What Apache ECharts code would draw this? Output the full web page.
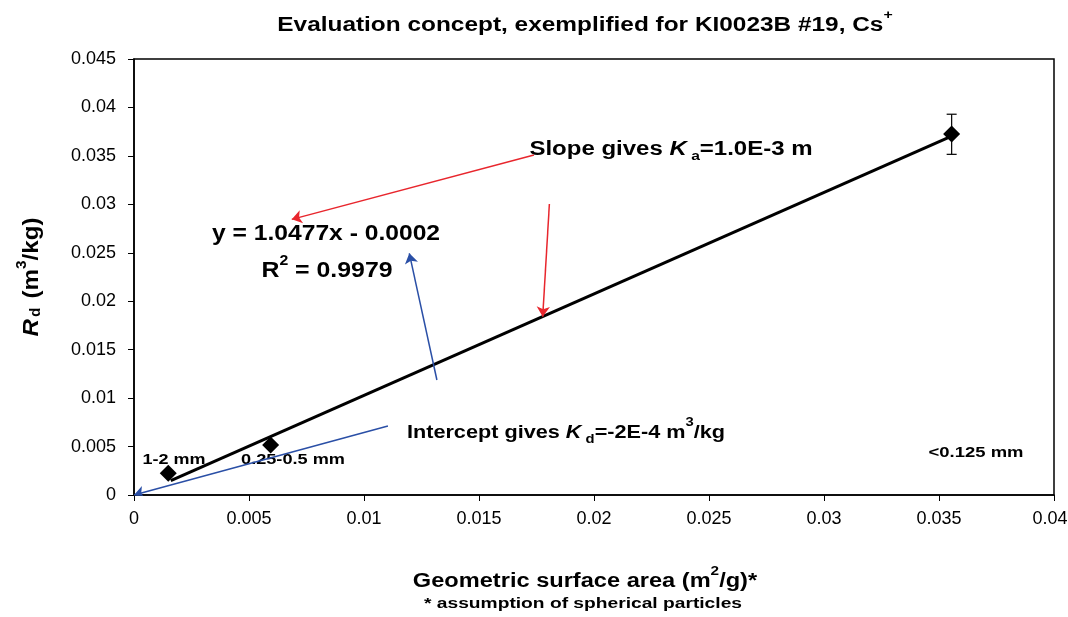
<!DOCTYPE html>
<html><head><meta charset="utf-8">
<script src="https://cdn.jsdelivr.net/npm/echarts@6/dist/echarts.min.js"></script>
<style>html,body{margin:0;padding:0;background:#fff}#c{width:1068px;height:617px}</style>
</head><body><div id="c"></div>
<script>
// Data
const pointNames = ['1-2 mm', '0.25-0.5 mm', '<0.125 mm'];
const pointX = [0.00149, 0.00594, 0.03555];
const pointY = [0.00224, 0.00516, 0.03726];
const errLow = [null, null, 0.03516];
const errHigh = [null, null, 0.03930];
const trendX = [0.0016, 0.03555];
const trendY = [0.00148, 0.03705];
// arrows: [x0,y0,x1,y1] (tail -> head) in data units
const redArrows = [
  [0.01739, 0.03509, 0.00686, 0.02845],
  [0.01806, 0.03004, 0.01777, 0.01841]
];
const blueArrows = [
  [0.01317, 0.01187, 0.01197, 0.02494],
  [0.01104, 0.00712, 0.0, 0.0]
];
const xTicks = [0, 0.005, 0.01, 0.015, 0.02, 0.025, 0.03, 0.035, 0.04];
const yTicks = [0, 0.005, 0.01, 0.015, 0.02, 0.025, 0.03, 0.035, 0.04, 0.045];

const FONT = '"Liberation Sans", Arial, sans-serif';
const chart = echarts.init(document.getElementById('c'));

function arrowLines(arr, color) {
  return {
    type: 'lines', coordinateSystem: 'cartesian2d', silent: true, z: 5,
    symbol: ['none', 'arrow'], symbolSize: 10,
    lineStyle: { color: color, width: 1.5, opacity: 1 },
    data: arr.map(a => ({ coords: [[a[0], a[1]], [a[2], a[3]]] }))
  };
}

const bold = { fontFamily: FONT, fontWeight: 'bold', color: '#000' };
function rt(fs, lh) { return { ...bold, fontSize: fs, lineHeight: lh, verticalAlign: 'bottom' }; }
function it(fs, lh) { return { ...bold, fontStyle: 'italic', fontSize: fs, lineHeight: lh, verticalAlign: 'bottom' }; }
function sup(fs, lh) { return { ...bold, fontSize: fs, lineHeight: lh, verticalAlign: 'top', padding: [0, 0, 10, 0] }; }
function sub(fs, lh) { return { ...bold, fontSize: fs, lineHeight: lh, verticalAlign: 'bottom', padding: [0, 0, -4, 0] }; }

function label(x, y, text, fs, sx) {
  return { type: 'text', x: x, y: y, scaleX: sx, style: { text: text, align: 'center', verticalAlign: 'middle', font: 'bold ' + fs + 'px ' + FONT, fill: '#000' } };
}

chart.setOption({
  animation: false,
  backgroundColor: '#fff',
  grid: { left: 134, right: 14, top: 59, bottom: 122, show: true, borderColor: '#000', borderWidth: 1.5,
          containLabel: false, outerBoundsMode: 'none' },
  xAxis: {
    type: 'value', min: 0, max: 0.04, interval: 0.005,
    axisLine: { show: true, lineStyle: { color: '#000', width: 1.5 } },
    axisTick: { show: true, length: 6, lineStyle: { color: '#000' } },
    splitLine: { show: false },
    axisLabel: { fontFamily: FONT, fontSize: 18, color: '#000', margin: 15,
      rich: { last: { fontFamily: FONT, fontSize: 18, color: '#000', padding: [0, 8, 0, 0] } },
      formatter: v => {
        const t = xTicks.find(k => Math.abs(k - v) < 1e-9);
        if (t === undefined) return '';
        return t === xTicks[xTicks.length - 1] ? '{last|' + t + '}' : String(t);
      } }
  },
  yAxis: {
    type: 'value', min: 0, max: 0.045, interval: 0.005,
    axisLine: { show: true, lineStyle: { color: '#000', width: 1.5 } },
    axisTick: { show: true, length: 6, lineStyle: { color: '#000' } },
    splitLine: { show: false },
    axisLabel: { fontFamily: FONT, fontSize: 18, color: '#000', margin: 18,
      formatter: v => { const t = yTicks.find(k => Math.abs(k - v) < 1e-9); return t === undefined ? '' : String(t); } }
  },
  series: [
    {
      type: 'line', data: trendX.map((x, i) => [x, trendY[i]]), symbol: 'none',
      lineStyle: { color: '#000', width: 3 }, z: 3
    },
    {
      type: 'custom', z: 4,
      data: pointX.map((x, i) => [x, errLow[i], errHigh[i]]).filter(d => d[1] != null),
      renderItem: function (params, api) {
        const lo = api.coord([api.value(0), api.value(1)]);
        const hi = api.coord([api.value(0), api.value(2)]);
        const w = 5;
        const st = { stroke: '#000', lineWidth: 1.2 };
        return { type: 'group', children: [
          { type: 'line', shape: { x1: lo[0], y1: lo[1], x2: hi[0], y2: hi[1] }, style: st },
          { type: 'line', shape: { x1: lo[0] - w, y1: lo[1], x2: lo[0] + w, y2: lo[1] }, style: st },
          { type: 'line', shape: { x1: hi[0] - w, y1: hi[1], x2: hi[0] + w, y2: hi[1] }, style: st }
        ]};
      }
    },
    {
      type: 'scatter', symbol: 'diamond', symbolSize: 17, z: 6,
      itemStyle: { color: '#000', opacity: 1 },
      data: pointX.map((x, i) => ({ value: [x, pointY[i]], name: pointNames[i] }))
    },
    arrowLines(redArrows, '#e8262d'),
    arrowLines(blueArrows, '#2a4fa6')
  ],
  graphic: [
    { type: 'text', x: 585, y: 22, scaleX: 1.22, style: {
      text: '{t|Evaluation concept, exemplified for KI0023B #19, Cs}{s|+}', align: 'center', verticalAlign: 'middle',
      rich: { t: rt(20, 26), s: sup(13, 26) } } },
    { type: 'text', x: 585, y: 578, scaleX: 1.18, style: {
      text: '{t|Geometric surface area (m}{s|2}{t|/g)*}', align: 'center', verticalAlign: 'middle',
      rich: { t: rt(20, 26), s: sup(13, 26) } } },
    label(583, 604, '* assumption of spherical particles', 15, 1.28),
    { type: 'text', x: 29, y: 277, rotation: Math.PI / 2, scaleX: 1.1, style: {
      text: '{i|R}{sb|d}{t| (m}{s|3}{t|/kg)}', align: 'center', verticalAlign: 'middle',
      rich: { i: it(22, 28), sb: { ...rt(14, 28), padding: [0, 2, 0, 2] }, t: rt(22, 28), s: sup(14, 28) } } },
    { type: 'text', x: 671, y: 146, scaleX: 1.2, style: {
      text: '{t|Slope gives }{i|K}{sb| a}{t|=1.0E-3 m}', align: 'center', verticalAlign: 'middle',
      rich: { t: rt(20, 26), i: it(20, 26), sb: sub(13, 26) } } },
    label(326, 234, 'y = 1.0477x - 0.0002', 22, 1.12),
    { type: 'text', x: 327, y: 268, scaleX: 1.13, style: {
      text: '{t|R}{s|2}{t| = 0.9979}', align: 'center', verticalAlign: 'middle',
      rich: { t: rt(22, 28), s: sup(14, 28) } } },
    { type: 'text', x: 566, y: 429, scaleX: 1.14, style: {
      text: '{t|Intercept gives }{i|K}{sb| d}{t|=-2E-4 m}{s|3}{t|/kg}', align: 'center', verticalAlign: 'middle',
      rich: { t: rt(19, 26), i: it(19, 26), sb: sub(13, 26), s: sup(13, 26) } } },
    label(174, 460, pointNames[0], 15, 1.2),
    label(293, 460, pointNames[1], 15, 1.21),
    label(976, 453, pointNames[2], 15, 1.23)
  ]
});
</script></body></html>
